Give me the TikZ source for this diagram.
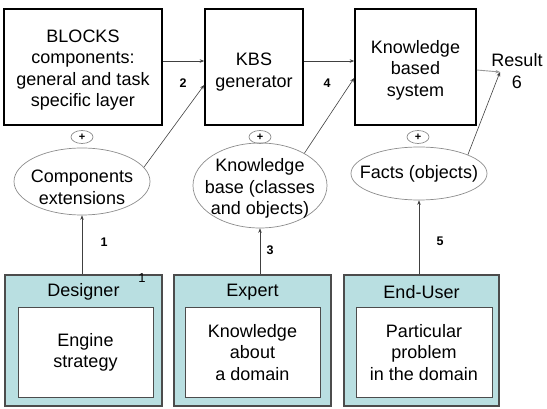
\documentclass[tikz,border=0pt]{standalone}
\usepackage{fontspec}
\setmainfont{Liberation Sans}
\usetikzlibrary{arrows.meta,shapes.geometric}
\definecolor{teal0}{HTML}{B9DFE1}
\begin{document}
\begin{tikzpicture}[x=1pt,y=-1pt,
  big/.style={font=\fontsize{18}{21.5}\selectfont, align=center, inner sep=0pt},
  topbox/.style={draw=black, line width=1.6pt, minimum height=116pt, inner sep=0pt},
  oval/.style={ellipse, draw=gray!90, line width=0.7pt, inner sep=0pt},
  plus/.style={ellipse, draw=gray!90, line width=0.7pt, minimum width=22pt, minimum height=13pt, inner sep=0pt, font=\fontsize{11}{11}\selectfont\bfseries},
  actor/.style={draw=gray!60!black, line width=1.2pt, fill=teal0, inner sep=0pt},
  innerbox/.style={draw=gray!60!black, line width=1pt, fill=white, inner sep=0pt, font=\fontsize{18}{21.5}\selectfont, align=center},
  arr/.style={draw=black!75, line width=0.6pt, -{Stealth[length=4.5pt,width=3.5pt]}},
  num/.style={font=\fontsize{12.5}{12.5}\selectfont\bfseries, inner sep=0pt}
]
\useasboundingbox (0,0) rectangle (547,409);

% top boxes
\node[topbox, minimum width=158pt] (blocks) at (83,67) {};
\node[big] (blockst) at (83,70) {BLOCKS\\components:\\general and task\\specific layer};
\node[topbox, minimum width=98pt] (gen) at (254,67) {};
\node[big] (gent) at (254,72) {KBS\\generator};
\node[topbox, minimum width=121pt] (kbs) at (415.5,67) {};
\node[big] (kbst) at (415.5,70) {Knowledge\\based\\system};

% plus signs
\node[plus] (p1) at (82,137) {+};
\node[plus] (p2) at (260,137) {+};
\node[plus] (p3) at (418,137) {+};

% ellipses
\node[oval, minimum width=136pt, minimum height=67pt] (e1) at (82,181.5) {};
\node[big] (e1t) at (82,187.5) {Components\\extensions};
\node[oval, minimum width=134pt, minimum height=85pt] (e2) at (260,185.5) {};
\node[big] (e2t) at (260,188.5) {Knowledge\\base (classes\\and objects)};
\node[oval, minimum width=136pt, minimum height=53pt] (e3) at (419,173.5) {};
\node[big] (e3t) at (419,173.5) {Facts (objects)};

% actors
\node[actor, minimum width=157pt, minimum height=131pt] (des) at (83.5,340.5) {};
\node[big] (dest) at (83.5,292) {Designer};
\node[innerbox, minimum width=135pt, minimum height=89pt] (desi) at (85.5,352.5) {Engine\\strategy};

\node[actor, minimum width=157pt, minimum height=131pt] (exp) at (252.5,340.5) {};
\node[big] (expt) at (252.5,292) {Expert};
\node[innerbox, minimum width=135pt, minimum height=89pt] (expi) at (252.5,352.5) {Knowledge\\about\\a domain};

\node[actor, minimum width=155pt, minimum height=131pt] (usr) at (421.5,340.5) {};
\node[big] (usrt) at (421.5,292) {End-User};
\node[innerbox, minimum width=136pt, minimum height=89pt] (usri) at (424,352.5) {Particular\\problem\\in the domain};

% result
\node[big] (result) at (517,71) {Result\\6};
\coordinate (res) at (500,72);

% connectors
\draw[arr] ([yshift=6pt]blocks.east) -- ([yshift=6pt]gen.west);
\draw[arr] ([yshift=6pt]gen.east) -- ([yshift=6pt]kbs.west);
\draw[arr] (e1.13) -- ([yshift=-18pt]gen.west);
\draw[arr] (e2.36) -- ([yshift=-11pt]kbs.west);
\draw[arr, draw=gray!80, line width=0.9pt] ([yshift=-3pt]kbs.east) -- (res);
\draw[arr] (e3.21) -- (res);
\draw[arr] (des.north -| e1.south) -- (e1.south);
\draw[arr] (exp.north -| e2.south) -- (e2.south);
\draw[arr] (usr.north -| e3.south) -- (e3.south);

% labels
\node[num] (n2) at (183,83) {2};
\node[num] (n4) at (327,83) {4};
\node[num] (n1) at (104,242) {1};
\node[num] (n3) at (270,250) {3};
\node[num] (n5) at (440,241) {5};
\node[inner sep=0pt, font=\fontsize{13}{13}\selectfont] (n1b) at (142,278) {1};
\end{tikzpicture}
\end{document}
